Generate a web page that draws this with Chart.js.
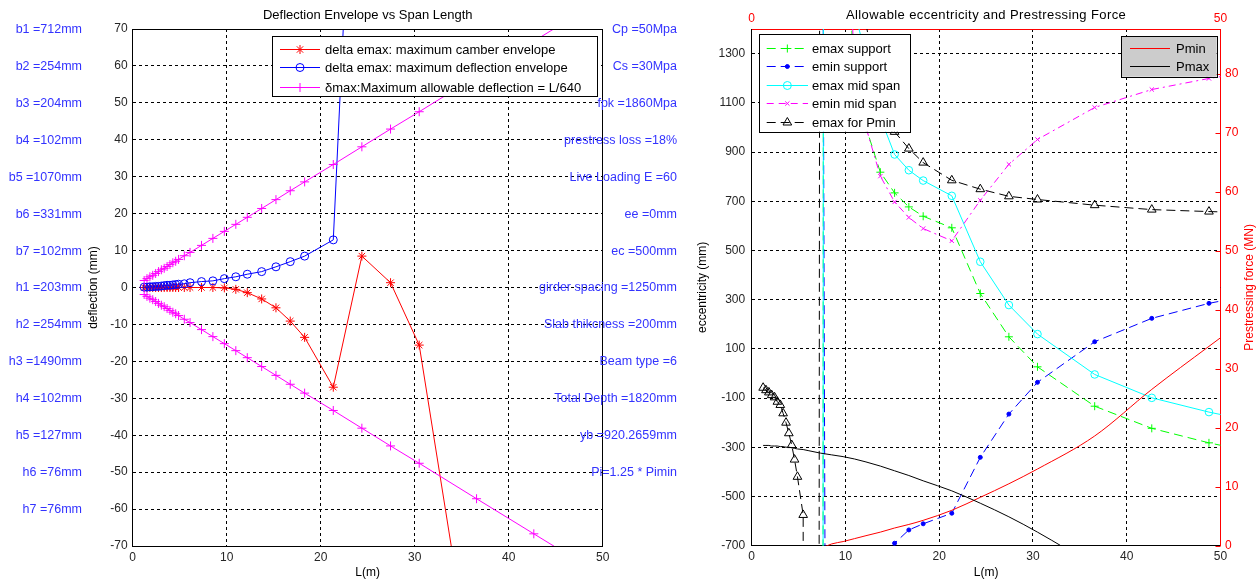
<!DOCTYPE html>
<html><head><meta charset="utf-8">
<script src="https://cdn.jsdelivr.net/npm/chart.js@4.4.1/dist/chart.umd.min.js"></script>
<style>
html,body{margin:0;padding:0;background:#fff;}
#wrap{position:relative;width:1256px;height:580px;overflow:hidden;background:#fff;}
canvas{position:absolute;top:0;}
#c1{left:0;} #c2{left:690px;}
</style></head><body>
<div id="wrap"><canvas id="c1" width="690" height="580"></canvas><canvas id="c2" width="566" height="580"></canvas></div>
<script>
// ---------- data ----------
const spanL = [1.22,1.52,1.83,2.13,2.44,2.74,3.05,3.35,3.66,3.96,4.27,4.57,4.88,5.49,6.10,7.32,8.53,9.75,10.97,12.19,13.72,15.24,16.76,18.29,21.34,24.38,27.43,30.48,36.58,42.67,48.77,54.86];

// left chart (deflection, mm)
const camberEnv = [0,0,0,0,0,0,0,0,0,0,0,0,0,0,0,0,0,-0.1,-0.5,-1.4,-3.1,-5.5,-9.1,-13.5,-27.0,8.5,1.3,-15.6,-113,-215,-330,-460];
const deflEnv   = [0.1,0.1,0.2,0.2,0.3,0.3,0.4,0.5,0.6,0.6,0.7,0.8,0.9,1.0,1.3,1.6,1.8,2.4,2.9,3.6,4.3,5.6,7.0,8.5,12.9,177,330,480,780,1100,1450,1800];
const allowUp   = [1.9,2.4,2.9,3.3,3.8,4.3,4.8,5.2,5.7,6.2,6.7,7.1,7.6,8.6,9.5,11.4,13.3,15.2,17.1,19.0,21.4,23.8,26.2,28.6,33.3,38.1,42.9,47.6,57.2,66.7,76.2,85.7];
const allowDown = [-1.9,-2.4,-2.9,-3.3,-3.8,-4.3,-4.8,-5.2,-5.7,-6.2,-6.7,-7.1,-7.6,-8.6,-9.5,-11.4,-13.3,-15.2,-17.1,-19.0,-21.4,-23.8,-26.2,-28.6,-33.3,-38.1,-42.9,-47.6,-57.2,-66.7,-76.2,-85.7];

// right chart (eccentricity, mm)
const emaxSupport = [null,null,null,null,null,null,null,null,null,null,null,null,null,null,null,-20000,60000,2500,1050,1000,818,734,677,639,592,325,149,27,-133,-223,-282,-330];
const eminSupport = [null,null,null,null,null,null,null,null,null,null,null,null,null,null,null,5000,-9000,-2500,-1600,-1200,-900,-690,-636,-611,-568,-341,-165,-36,129,224,285,330];
const emaxMid     = [null,null,null,null,null,null,null,null,null,null,null,null,null,null,null,-20000,60000,3000,1470,1290,1040,890,826,784,722,454,278,160,-4,-99,-157,-205];
const eminMid     = [null,null,null,null,null,null,null,null,null,null,null,null,null,null,null,null,9000,2750,1150,1000,802,697,634,589,539,704,850,951,1081,1154,1199,1235];
const emaxPmin    = [-58,-68,-77,-88,-97,-115,-128,-162,-200,-243,-291,-350,-420,-575,-50000,5000,3500,2500,1900,1420,1120,982,914,857,785,749,720,707,684,666,658,652];
// prestressing force (MN)
const pMin = [null,null,null,null,null,null,null,null,null,null,null,null,null,null,null,-0.5,0.3,0.7,1.2,1.7,2.3,3.0,3.6,4.3,6.0,8.2,10.5,13.0,18.6,26.5,33.8,41];
const pMax = [17.0,17.0,17.0,16.9,16.9,16.9,16.8,16.8,16.7,16.7,16.6,16.5,16.4,16.3,16.1,15.7,15.4,15.1,14.7,14.2,13.5,12.7,11.9,11.0,9.3,7.2,4.9,2.3,-3.5,-10,-17,-25];

// tick labels
const spanTicks  = [0,10,20,30,40,50];
const deflTicks  = [-70,-60,-50,-40,-30,-20,-10,0,10,20,30,40,50,60,70];
const eccTicks   = [-700,-500,-300,-100,100,300,500,700,900,1100,1300];
const forceTicks = [0,10,20,30,40,50,60,70,80];
const topTicks   = [0,50];

// annotation texts
const leftNotes  = ['b1 =712mm','b2 =254mm','b3 =204mm','b4 =102mm','b5 =1070mm','b6 =331mm','b7 =102mm','h1 =203mm','h2 =254mm','h3 =1490mm','h4 =102mm','h5 =127mm','h6 =76mm','h7 =76mm'];
const rightNotes = ['Cp =50Mpa','Cs =30Mpa','fpk =1860Mpa','prestress loss =18%','Live Loading E =60','ee =0mm','ec =500mm','girder spacing =1250mm','Slab thikcness =200mm','Beam type =6','Total Depth =1820mm','yb =920.2659mm','Pi=1.25 * Pimin'];
const noteLevels = [70,60,50,40,30,20,10,0,-10,-20,-30,-40,-50,-60];

// ---------- helpers ----------
const FONT = '"Liberation Sans", Arial, Helvetica, sans-serif';
Chart.defaults.font.family = FONT;
Chart.defaults.font.size = 12;
Chart.defaults.color = '#262626';
const pts = ys => spanL.map((x,i)=>({x:x, y:ys[i]}));
const plain = v => String(v);

function drawMarker(ctx, style, x, y, r, color, filled){
  ctx.save();
  ctx.strokeStyle = color; ctx.fillStyle = color; ctx.lineWidth = 1; ctx.setLineDash([]);
  ctx.beginPath();
  const d = r*0.7071;
  if (style==='cross' || style==='star'){
    ctx.moveTo(x-r,y); ctx.lineTo(x+r,y); ctx.moveTo(x,y-r); ctx.lineTo(x,y+r);
  }
  if (style==='crossRot' || style==='star'){
    ctx.moveTo(x-d,y-d); ctx.lineTo(x+d,y+d); ctx.moveTo(x-d,y+d); ctx.lineTo(x+d,y-d);
  }
  if (style==='circle'){
    ctx.arc(x,y,r,0,Math.PI*2);
    if (filled) ctx.fill();
  }
  if (style==='triangle'){
    const w = r*0.866*2;
    ctx.moveTo(x, y-r); ctx.lineTo(x+w/2, y+r/2); ctx.lineTo(x-w/2, y+r/2); ctx.closePath();
  }
  ctx.stroke();
  ctx.restore();
}

function legendBox(ctx, box, items, o){
  ctx.save();
  ctx.fillStyle = o.fill || '#fff';
  ctx.fillRect(box.x, box.y, box.w, box.h);
  ctx.strokeStyle = '#000'; ctx.lineWidth = 1; ctx.setLineDash([]);
  ctx.strokeRect(Math.round(box.x)+0.5, Math.round(box.y)+0.5, Math.round(box.w), Math.round(box.h));
  items.forEach((it,i)=>{
    const y = Math.round(o.rows[i]);
    ctx.strokeStyle = it.color; ctx.lineWidth = 1; ctx.setLineDash(it.dash || []);
    ctx.beginPath(); ctx.moveTo(o.lx0, y+0.5); ctx.lineTo(o.lx1, y+0.5); ctx.stroke();
    ctx.setLineDash([]);
    if (it.marker) drawMarker(ctx, it.marker, (o.lx0+o.lx1)/2, y+0.5, it.r, it.color, it.filled);
    ctx.fillStyle = '#000'; ctx.font = o.font; ctx.textBaseline = 'middle'; ctx.textAlign = 'left';
    ctx.fillText(it.text, o.tx, y+1);
  });
  ctx.restore();
}

const baseOpts = {
  responsive:false, animation:false, devicePixelRatio:1,
  plugins:{legend:{display:false}, tooltip:{enabled:false}, title:{display:false}},
  elements:{line:{tension:0, borderWidth:1}, point:{hitRadius:0, hoverRadius:0}}
};

// ---------- left chart ----------
const leftPlugin = {
  id:'leftDecor',
  afterDraw(chart){
    const ctx = chart.ctx, a = chart.chartArea, ys = chart.scales.y;
    ctx.save();
    ctx.strokeStyle = '#000'; ctx.lineWidth = 1; ctx.setLineDash([]);
    ctx.beginPath();
    ctx.moveTo(a.left, Math.round(a.top)+0.5); ctx.lineTo(a.right, Math.round(a.top)+0.5);
    ctx.moveTo(Math.round(a.right)-0.5, a.top); ctx.lineTo(Math.round(a.right)-0.5, a.bottom);
    ctx.stroke();
    ctx.fillStyle = '#000'; ctx.font = '13px '+FONT; ctx.textAlign='center'; ctx.textBaseline='middle';
    ctx.fillText('Deflection Envelope vs Span Length', (a.left+a.right)/2, 15.5);
    ctx.restore();
    legendBox(ctx, {x:272, y:36, w:325, h:60}, [
      {text:'delta emax: maximum camber envelope', color:'#ff0000', marker:'star', r:4.5},
      {text:'delta emax: maximum deflection envelope', color:'#0000ff', marker:'circle', r:4},
      {text:'\u03B4max:Maximum allowable deflection = L/640', color:'#ff00ff', marker:'cross', r:4.5}
    ], {rows:[48.5,67,87], lx0:280, lx1:320, tx:325, font:'13px '+FONT});
    ctx.save();
    ctx.fillStyle = '#3333ff'; ctx.font = '12.5px '+FONT; ctx.textBaseline='middle'; ctx.textAlign='right';
    leftNotes.forEach((t,i)=> ctx.fillText(t, 82, ys.getPixelForValue(noteLevels[i])+0.5));
    rightNotes.forEach((t,i)=> ctx.fillText(t, 677, ys.getPixelForValue(noteLevels[i])+0.5));
    ctx.restore();
  }
};

new Chart(document.getElementById('c1'), {
  type:'line',
  data:{datasets:[
    {label:'delta emax: maximum camber envelope', data:pts(camberEnv), borderColor:'#ff0000', borderWidth:1,
     pointStyle:'star', pointRadius:4.5, pointBorderColor:'#ff0000', pointBackgroundColor:'#ff0000', pointBorderWidth:1, order:3},
    {label:'delta emax: maximum deflection envelope', data:pts(deflEnv), borderColor:'#0000ff', borderWidth:1,
     pointStyle:'circle', pointRadius:4, pointBorderColor:'#0000ff', pointBackgroundColor:'rgba(0,0,0,0)', pointBorderWidth:1, order:2},
    {label:'\u03B4max:Maximum allowable deflection = L/640', data:pts(allowUp), borderColor:'#ff00ff', borderWidth:1,
     pointStyle:'cross', pointRadius:4.5, pointBorderColor:'#ff00ff', pointBorderWidth:1, order:1},
    {label:'', data:pts(allowDown), borderColor:'#ff00ff', borderWidth:1,
     pointStyle:'cross', pointRadius:4.5, pointBorderColor:'#ff00ff', pointBorderWidth:1, order:0}
  ]},
  options:{
    ...baseOpts,
    layout:{padding:{left:0, right:87.3, top:29, bottom:0}},
    scales:{
      x:{type:'linear', min:0, max:50,
         afterBuildTicks(s){ s.ticks = spanTicks.map(v=>({value:v})); },
         ticks:{padding:4, color:'#262626', callback:plain},
         grid:{color:'#000', drawTicks:false, lineWidth:1},
         border:{color:'#000', width:1, dash:[3,3]},
         title:{display:true, text:'L(m)', color:'#000', padding:{top:0,bottom:0}},
         afterFit(s){ s.height = 34; }},
      y:{type:'linear', min:-70, max:70,
         afterBuildTicks(s){ s.ticks = deflTicks.map(v=>({value:v})); },
         ticks:{padding:5, color:'#262626', callback:plain},
         grid:{color:'#000', drawTicks:false, lineWidth:1},
         border:{color:'#000', width:1, dash:[3,3]},
         title:{display:true, text:'deflection (mm)', color:'#000', padding:{top:86,bottom:0}},
         afterFit(s){ s.width = 132.7; }}
    }
  },
  plugins:[leftPlugin]
});

// ---------- right chart ----------
const rightPlugin = {
  id:'rightDecor',
  afterDraw(chart){
    const ctx = chart.ctx, a = chart.chartArea, y1 = chart.scales.y1;
    ctx.save();
    ctx.strokeStyle = '#ff0000'; ctx.lineWidth = 1; ctx.setLineDash([]);
    ctx.beginPath();
    forceTicks.forEach(v=>{ const y = Math.round(y1.getPixelForValue(v))+0.5; ctx.moveTo(a.right-5, y); ctx.lineTo(a.right, y); });
    ctx.stroke();
    ctx.fillStyle = '#000'; ctx.font = '13px '+FONT; ctx.textAlign='center'; ctx.textBaseline='middle';
    try { ctx.letterSpacing = '0.4px'; } catch(e) {}
    ctx.fillText('Allowable eccentricity and Prestressing Force', (a.left+a.right)/2, 15.5);
    try { ctx.letterSpacing = '0px'; } catch(e) {}
    ctx.font = '12px '+FONT;
    ctx.translate(560, (a.top+a.bottom)/2);
    ctx.rotate(-Math.PI/2);
    ctx.fillStyle = '#ff0000';
    ctx.fillText('Prestressing force (MN)', 0, 0);
    ctx.restore();
    legendBox(ctx, {x:69.3, y:34, w:151.4, h:97.7}, [
      {text:'emax support', color:'#00ff00', marker:'cross', r:4, dash:[9,5]},
      {text:'emin support', color:'#0000ff', marker:'circle', r:2, filled:true, dash:[9,5]},
      {text:'emax mid span', color:'#00ffff', marker:'circle', r:4},
      {text:'emin mid span', color:'#ff00ff', marker:'crossRot', r:3, dash:[7,5]},
      {text:'emax for Pmin', color:'#000000', marker:'triangle', r:5, dash:[9,5]}
    ], {rows:[48,66,85,102.5,121.5], lx0:76.7, lx1:118, tx:122, font:'13px '+FONT});
    legendBox(ctx, {x:431, y:36, w:95.7, h:40.7}, [
      {text:'Pmin', color:'#ff0000'},
      {text:'Pmax', color:'#000000'}
    ], {rows:[47.7,65.7], lx0:440, lx1:480, tx:486, font:'13px '+FONT, fill:'#cccccc'});
  }
};

const dsR = (label, ys, color, style, r, filled, dash, order, axis, smooth) => ({
  label, data:pts(ys), borderColor:color, borderWidth:1, borderDash:dash||[],
  pointStyle:style||false, pointRadius:style? r:0, pointBorderColor:color,
  pointBackgroundColor: filled? color : 'rgba(0,0,0,0)', pointBorderWidth:1,
  cubicInterpolationMode: smooth ? 'monotone' : 'default', tension: smooth ? 0.4 : 0,
  order, yAxisID: axis||'y'
});

new Chart(document.getElementById('c2'), {
  type:'line',
  data:{datasets:[
    dsR('emax support', emaxSupport, '#00ff00', 'cross', 4, false, [9,5], 7),
    dsR('emin support', eminSupport, '#0000ff', 'circle', 2, true, [9,5], 6),
    dsR('emax mid span', emaxMid, '#00ffff', 'circle', 3.8, false, [], 5),
    dsR('emin mid span', eminMid, '#ff00ff', 'crossRot', 3, false, [7,4,2,4], 4),
    dsR('emax for Pmin', emaxPmin, '#000000', 'triangle', 5, false, [9,5], 3),
    dsR('Pmin', pMin, '#ff0000', null, 0, false, [], 2, 'y1', true),
    dsR('Pmax', pMax, '#000000', null, 0, false, [], 1, 'y1', true)
  ]},
  options:{
    ...baseOpts,
    layout:{padding:{left:0, right:0, top:0, bottom:0}},
    scales:{
      x:{type:'linear', position:'bottom', min:0, max:50,
         afterBuildTicks(s){ s.ticks = spanTicks.map(v=>({value:v})); },
         ticks:{padding:4, color:'#262626', callback:plain},
         grid:{color:'#000', drawTicks:false, lineWidth:1},
         border:{color:'#000', width:1, dash:[3,3]},
         title:{display:true, text:'L(m)', color:'#000', padding:{top:0,bottom:0}},
         afterFit(s){ s.height = 34.3; }},
      x2:{type:'linear', position:'top', min:0, max:50,
         afterBuildTicks(s){ s.ticks = topTicks.map(v=>({value:v})); },
         ticks:{padding:3, color:'#ff0000', callback:plain},
         grid:{display:false, drawTicks:false},
         border:{display:true, color:'#ff0000', width:1},
         afterFit(s){ s.height = 29; }},
      y:{type:'linear', position:'left', min:-700, max:1400,
         afterBuildTicks(s){ s.ticks = eccTicks.map(v=>({value:v})); },
         ticks:{padding:6.5, color:'#262626', callback:plain},
         grid:{color:'#000', drawTicks:false, lineWidth:1},
         border:{color:'#000', width:1, dash:[3,3]},
         title:{display:true, text:'eccentricity (mm)', color:'#000', padding:{top:5.8,bottom:0}},
         afterFit(s){ s.width = 61.7; }},
      y1:{type:'linear', position:'right', min:0, max:87.6,
         afterBuildTicks(s){ s.ticks = forceTicks.map(v=>({value:v})); },
         ticks:{padding:4.5, color:'#ff0000', callback:plain},
         grid:{drawOnChartArea:false, drawTicks:false},
         border:{color:'#ff0000', width:1},
         afterFit(s){ s.width = 35.5; }}
    }
  },
  plugins:[rightPlugin]
});
</script>
</body></html>
